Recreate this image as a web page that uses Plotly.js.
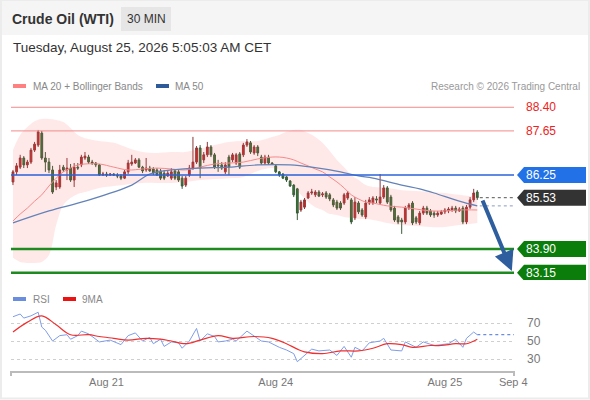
<!DOCTYPE html>
<html>
<head>
<meta charset="utf-8">
<script src="https://cdn.plot.ly/plotly-3.0.1.min.js"></script>
<style>
html,body{margin:0;padding:0;background:#fff;}
#chart{width:590px;height:400px;}
</style>
</head>
<body>
<div id="chart"></div>
<script>
// ---------- DATA ----------
const open = [86.03,86.35,86.50,86.79,86.57,86.66,87.04,87.20,87.58,86.79,
86.66,86.41,85.87,85.87,86.50,86.41,86.47,86.09,86.50,86.57,
86.79,86.82,86.66,86.63,86.57,86.25,86.28,86.25,86.28,86.25,
86.22,86.15,86.35,86.60,86.63,86.73,86.50,86.41,86.47,86.44,
86.41,86.38,86.31,86.22,86.15,86.38,86.35,86.15,85.93,86.25,
86.47,86.66,87.11,86.73,86.89,87.14,86.89,86.57,86.57,86.35,
86.82,86.73,86.63,86.92,86.89,87.20,87.27,86.95,87.14,86.82,
86.63,86.82,86.63,86.54,86.35,86.28,86.19,86.06,85.93,85.81,
85.14,85.23,85.52,85.68,85.62,85.71,85.62,85.68,85.62,85.46,
85.39,85.36,85.36,85.52,85.46,84.89,85.36,85.14,84.92,85.36,
85.36,85.49,85.36,85.55,85.84,85.55,85.20,84.92,84.82,84.76,
85.20,85.36,84.89,84.73,85.04,85.20,85.11,85.04,84.98,85.01,
85.08,85.11,85.14,85.20,85.11,85.20,84.76,85.23,85.46,85.71];
const close = [86.35,86.54,86.79,86.57,86.66,87.04,87.23,87.62,86.79,86.66,
86.41,85.71,86.00,86.41,86.41,86.47,86.09,86.50,86.47,86.82,
86.85,86.66,86.63,86.57,86.25,86.28,86.25,86.28,86.25,86.22,
86.15,86.35,86.63,86.66,86.73,86.50,86.38,86.47,86.38,86.31,
86.25,86.15,86.15,86.31,86.35,86.15,86.09,85.90,86.15,86.47,
86.66,87.11,86.47,86.89,87.14,86.89,86.50,86.54,86.47,86.57,
86.50,86.89,86.89,86.50,87.20,87.30,86.98,87.14,86.95,86.63,
86.82,86.63,86.60,86.35,86.25,86.15,86.09,85.90,85.62,85.04,
85.39,85.46,85.68,85.71,85.71,85.58,85.65,85.55,85.49,85.30,
85.20,85.20,85.62,85.68,84.76,85.39,85.08,84.98,85.36,85.46,
85.52,85.46,85.55,85.84,85.39,85.14,84.82,84.76,84.76,85.20,
85.30,84.73,84.76,85.04,85.20,85.04,84.98,84.98,85.04,85.08,
85.14,85.17,85.20,85.11,85.17,84.76,85.23,85.46,85.68,85.53];
const high = [86.41,86.63,86.89,86.85,86.73,87.11,87.30,87.68,87.65,86.98,
86.79,86.54,86.09,86.57,86.57,86.79,86.60,86.63,86.63,86.89,
86.98,86.89,86.73,86.66,86.60,86.35,86.35,86.31,86.31,86.31,
86.28,86.41,86.73,86.89,86.79,86.79,86.54,86.79,86.54,86.50,
86.47,86.44,86.41,86.41,86.47,86.44,86.41,86.22,86.22,86.57,
87.46,87.17,87.20,86.98,87.30,87.20,86.95,86.73,86.66,86.66,
86.89,86.95,86.95,86.98,87.27,87.39,87.33,87.20,87.20,86.89,
86.89,86.89,86.66,86.57,86.38,86.31,86.22,86.09,85.96,85.84,
85.46,85.52,85.74,85.81,85.77,85.77,85.71,85.74,85.68,85.52,
85.46,85.42,85.68,85.74,85.52,85.55,85.42,85.20,85.46,85.55,
85.58,85.58,86.28,85.93,85.90,85.62,85.27,84.98,84.89,85.27,
85.36,85.42,84.95,85.11,85.27,85.27,85.17,85.11,85.11,85.14,
85.20,85.23,85.27,85.27,85.23,85.27,85.30,85.55,85.81,85.77];
const low = [85.93,86.25,86.44,86.47,86.47,86.60,86.98,87.14,86.73,86.35,
86.31,85.65,85.77,85.81,86.35,86.09,86.03,85.87,86.41,86.50,
86.73,86.60,86.57,86.50,86.22,86.22,86.19,86.22,86.22,86.15,
86.09,86.12,86.28,86.54,86.60,86.47,86.31,86.35,86.35,86.25,
86.22,86.09,86.09,86.19,86.09,86.09,86.03,85.81,85.87,86.19,
86.41,86.60,86.15,86.63,86.82,86.82,86.44,86.35,86.41,86.28,
86.25,86.66,86.57,86.44,86.82,87.14,86.92,86.89,86.85,86.57,
86.57,86.57,86.57,86.31,86.19,86.12,86.03,85.87,85.55,84.82,
85.08,85.17,85.49,85.62,85.55,85.55,85.55,85.49,85.42,85.23,
85.14,85.14,85.30,85.46,84.69,84.82,85.01,84.92,84.85,85.30,
85.30,85.36,85.30,85.49,85.33,85.08,84.76,84.69,84.38,84.69,
85.14,84.66,84.69,84.66,84.98,84.98,84.92,84.89,84.92,84.98,
85.01,85.04,85.08,85.04,85.08,84.69,84.69,85.17,85.39,85.46];

// Bollinger bands / MA20 (sampled bar indices)
const bandIdx = [0,2,4,6,8,10,12,14,16,18,20,24,28,32,36,40,44,48,52,56,60,64,68,72,
74,76,78,80,82,84,86,88,90,92,94,96,98,100,104,108,112,116,120,124,129];
const bandUpper = [87.04,87.52,87.77,87.96,88.03,88.03,88.00,87.93,87.74,87.52,87.42,
87.33,87.27,87.11,86.98,86.95,86.98,86.98,87.08,87.20,87.30,87.33,87.33,87.46,
87.52,87.62,87.68,87.68,87.58,87.46,87.27,87.01,86.73,86.50,86.25,86.09,85.93,85.87,
85.84,85.77,85.74,85.71,85.68,85.62,85.55];
const bandLower = [83.62,83.49,83.46,83.46,83.49,83.71,84.66,85.30,85.52,85.65,85.71,
85.84,85.90,85.96,86.00,86.00,86.00,86.03,86.09,86.12,86.15,86.19,86.38,86.47,
86.41,86.19,85.93,85.62,85.39,85.23,85.14,85.01,84.98,84.92,84.89,84.85,84.85,84.82,
84.73,84.66,84.63,84.60,84.60,84.66,84.73];
const ma20 = [84.79,85.01,85.20,85.42,85.62,85.90,86.15,86.35,86.47,86.57,86.60,
86.60,86.50,86.41,86.44,86.47,86.44,86.41,86.50,86.60,86.63,86.66,86.76,86.82,
86.82,86.79,86.73,86.63,86.54,86.44,86.35,86.19,86.03,85.84,85.62,85.49,85.39,85.36,
85.27,85.23,85.17,85.11,85.11,85.14,85.14];
const ma50Idx = [0,10,20,33,38,44,52,60,68,77,83,91,96,100,108,113,117,124,129];
const ma50 = [84.73,85.11,85.42,85.93,86.28,86.41,86.47,86.50,86.57,86.57,86.50,86.35,86.22,86.15,85.93,85.81,85.68,85.42,85.27];

// RSI and its 9-period MA
const rsiIdx = [0,2,3,5,7,8,9,11,13,15,16,18,19,21,24,27,30,32,34,36,38,39,41,42,44,46,47,49,51,52,
54,56,57,59,61,62,65,67,69,71,72,74,76,78,79,81,83,85,88,90,92,94,95,97,99,102,103,105,108,109,
112,114,117,121,123,125,126,128,129];
const rsi = [77,80,75.5,78,82,65.5,62,50,56,57,52,56,61,58,49,51,46,56,59,50,54,47,52,44,49,48,42,50,64,50,
58,55,49,50,52,50,61,55,50,49,47,43,40,36,27,34,41,39,40,34,44,32,43,39,48,50,53,40,39,49,
43,49,45,47,52,43,53,60,57];
const rsiMaIdx = [0,4,8,12,16,21,24,28,32,37,41,44,48,52,57,61,67,72,76,79,81,86,91,96,100,104,108,111,116,119,123,126,129];
const rsiMa = [60,71,78,68,57,57,55,53,51,53,52,50,47,51,56,53,55,53,47,41,38,36,39,39,42,47,46,43,45,45,47,47,52];

// Key levels
const resistRed = [88.40, 87.65];
const pivotLevel = 86.25;
const lastPrice = 85.53;
const supportLevels = [83.90, 83.15];
const arrowStart = [130.3, 85.49];
const arrowEnd = [138.6, 83.20];

// X axis ticks
const tickIdx = [26, 73, 120, 139];
const tickText = ['Aug 21', 'Aug 24', 'Aug 25', 'Sep 4'];
const xMin = -0.55, xMax = 139.2;

// ---------- LAYOUT HELPERS (pixel -> paper) ----------
const PL = 11, PR = 514, PT = 100, PB = 371;
const fx = p => (p - PL) / (PR - PL);
const fy = p => (PB - p) / (PB - PT);
const FONT = 'Liberation Sans, Arial, Helvetica, sans-serif';

const idx = open.map((_, i) => i);
const lastIdx = idx[idx.length - 1];

const traces = [
  {x: bandIdx, y: bandUpper, type: 'scatter', mode: 'lines', line: {width: 0, shape: 'spline'}, hoverinfo: 'skip', xaxis: 'x', yaxis: 'y'},
  {x: bandIdx, y: bandLower, type: 'scatter', mode: 'lines', line: {width: 0, shape: 'spline'}, fill: 'tonexty', fillcolor: 'rgba(255,80,80,0.13)', hoverinfo: 'skip', xaxis: 'x', yaxis: 'y'},
  {x: bandIdx, y: ma20, type: 'scatter', mode: 'lines', line: {width: 1, color: '#f58a8a', shape: 'spline'}, xaxis: 'x', yaxis: 'y'},
  {x: ma50Idx, y: ma50, type: 'scatter', mode: 'lines', line: {width: 1.2, color: '#6282b8', shape: 'spline'}, xaxis: 'x', yaxis: 'y'},
  {x: idx, open: open, high: high, low: low, close: close, type: 'candlestick', xaxis: 'x', yaxis: 'y',
   increasing: {line: {color: '#8a3a3a', width: 1}, fillcolor: '#e01b1b'},
   decreasing: {line: {color: '#3a5a3a', width: 1}, fillcolor: '#2f7f2f'},
   whiskerwidth: 0},
  {x: [lastIdx + 0.7, xMax], y: [lastPrice, lastPrice], type: 'scatter', mode: 'lines', line: {width: 1, color: '#555', dash: 'dot'}, xaxis: 'x', yaxis: 'y'},
  {x: [lastIdx + 0.7, xMax], y: [ma50[ma50.length - 1], ma50[ma50.length - 1]], type: 'scatter', mode: 'lines', line: {width: 1, color: '#8a9cc0', dash: 'dot'}, xaxis: 'x', yaxis: 'y'},
  {x: rsiIdx, y: rsi, type: 'scatter', mode: 'lines', line: {width: 1, color: '#7f9de8'}, xaxis: 'x', yaxis: 'y2'},
  {x: [lastIdx, xMax], y: [rsi[rsi.length - 1], rsi[rsi.length - 1]], type: 'scatter', mode: 'lines', line: {width: 1.2, color: '#6a8de0', dash: 'dot'}, xaxis: 'x', yaxis: 'y2'},
  {x: rsiMaIdx, y: rsiMa, type: 'scatter', mode: 'lines', line: {width: 1.2, color: '#f03030', shape: 'spline'}, xaxis: 'x', yaxis: 'y2'}
];

const shapes = [];
const annotations = [];

// page border + header background
shapes.push({type: 'rect', xref: 'paper', yref: 'paper', x0: fx(-2), x1: fx(592), y0: fy(35), y1: fy(-2), fillcolor: '#f5f5f5', line: {width: 0}, layer: 'below'});
shapes.push({type: 'rect', xref: 'paper', yref: 'paper', x0: fx(1), x1: fx(589), y0: fy(398.5), y1: fy(0), fillcolor: 'rgba(0,0,0,0)', line: {width: 2, color: '#ececec'}, layer: 'below'});
// 30 MIN badge
shapes.push({type: 'rect', xref: 'paper', yref: 'paper', x0: fx(121), x1: fx(171), y0: fy(31), y1: fy(7), fillcolor: '#e6e6e6', line: {width: 0}, layer: 'below'});
// legend swatches
shapes.push({type: 'rect', xref: 'paper', yref: 'paper', x0: fx(13), x1: fx(26), y0: fy(88), y1: fy(84), fillcolor: '#ff8080', line: {width: 0}});
shapes.push({type: 'rect', xref: 'paper', yref: 'paper', x0: fx(156), x1: fx(169), y0: fy(88), y1: fy(84), fillcolor: '#2f5a9a', line: {width: 0}});
shapes.push({type: 'rect', xref: 'paper', yref: 'paper', x0: fx(13), x1: fx(26), y0: fy(301), y1: fy(297), fillcolor: '#6a8de0', line: {width: 0}});
shapes.push({type: 'rect', xref: 'paper', yref: 'paper', x0: fx(63), x1: fx(76), y0: fy(301), y1: fy(297), fillcolor: '#ee1111', line: {width: 0}});
// x-axis end ticks
[0, 1].forEach(p => shapes.push({type: 'line', xref: 'paper', yref: 'paper', x0: p, x1: p, y0: fy(371), y1: fy(376), line: {width: 2, color: '#bbb'}}));

// resistance (red) levels
resistRed.forEach(v => {
  shapes.push({type: 'line', xref: 'paper', yref: 'y', x0: 0, x1: 1, y0: v, y1: v, line: {width: 1, color: '#f28a8a'}});
  annotations.push({xref: 'paper', yref: 'y', x: 1, y: v, xanchor: 'left', yanchor: 'middle', xshift: 10, text: v.toFixed(2), showarrow: false, font: {family: FONT, size: 12, color: '#ee2222'}});
});

function tag(v, color) {
  shapes.push({type: 'path', xref: 'paper', yref: 'y', xsizemode: 'pixel', ysizemode: 'pixel', xanchor: 1, yanchor: v,
    path: 'M 3 0 L 10 8 L 72 8 L 72 -8 L 10 -8 Z', fillcolor: color, line: {width: 0}});
  annotations.push({xref: 'paper', yref: 'y', x: 1, y: v, xanchor: 'left', yanchor: 'middle', xshift: 10, text: v.toFixed(2), showarrow: false, font: {family: FONT, size: 12, color: '#ffffff'}});
}
// pivot
shapes.push({type: 'line', xref: 'paper', yref: 'y', x0: 0, x1: 1, y0: pivotLevel, y1: pivotLevel, line: {width: 1.3, color: '#2a62d8'}});
tag(pivotLevel, '#2371e6');
tag(lastPrice, '#333333');
supportLevels.forEach(v => {
  shapes.push({type: 'line', xref: 'paper', yref: 'y', x0: 0, x1: 1, y0: v, y1: v, line: {width: 2.5, color: '#1f8a1f'}});
  tag(v, '#0b7d0b');
});

// forecast arrow
annotations.push({xref: 'x', yref: 'y', axref: 'x', ayref: 'y', x: arrowEnd[0], y: arrowEnd[1], ax: arrowStart[0], ay: arrowStart[1],
  text: '', showarrow: true, arrowhead: 2, arrowsize: 1, arrowwidth: 4, arrowcolor: '#2f5e9e'});

// texts
function txt(x, y, text, size, color, anchor) {
  annotations.push({xref: 'paper', yref: 'paper', x: fx(x), y: fy(y), xanchor: anchor || 'left', yanchor: 'middle', text: text, showarrow: false, font: {family: FONT, size: size, color: color}});
}
txt(10, 19, '<b>Crude Oil (WTI)</b>', 14, '#333');
txt(146, 19, '30 MIN', 12, '#333', 'center');
txt(11, 48, 'Tuesday, August 25, 2026 5:05:03 AM CET', 13.5, '#333');
txt(31, 86, 'MA 20 + Bollinger Bands', 10, '#888');
txt(173, 86, 'MA 50', 10, '#888');
txt(582, 86, 'Research © 2026 Trading Central', 10, '#999', 'right');
txt(31, 299, 'RSI', 10, '#888');
txt(80, 299, '9MA', 10, '#888');

const layout = {
  width: 590, height: 400,
  margin: {l: PL, r: 590 - PR, t: PT, b: 400 - PB},
  paper_bgcolor: '#ffffff', plot_bgcolor: '#ffffff',
  showlegend: false,
  font: {family: FONT},
  xaxis: {range: [xMin, xMax], anchor: 'y2', showgrid: false, zeroline: false,
    showline: true, linecolor: '#bbbbbb', linewidth: 2, ticks: '',
    tickmode: 'array', tickvals: tickIdx, ticktext: tickText,
    tickfont: {family: FONT, size: 11, color: '#777'}, rangeslider: {visible: false}},
  yaxis: {domain: [fy(280), 1], range: [82.917, 88.631], visible: false, showgrid: false, zeroline: false},
  yaxis2: {domain: [0, fy(300)], range: [16.67, 95.6], side: 'right', anchor: 'x',
    tickmode: 'array', tickvals: [30, 50, 70], showgrid: true, gridcolor: '#cfcfcf', griddash: 'dot', gridwidth: 1,
    zeroline: false, showline: false, ticks: '', ticklabelstandoff: 12,
    tickfont: {family: FONT, size: 12, color: '#777'}},
  shapes: shapes,
  annotations: annotations
};

Plotly.newPlot('chart', traces, layout, {staticPlot: true, displayModeBar: false});
</script>
</body>
</html>
